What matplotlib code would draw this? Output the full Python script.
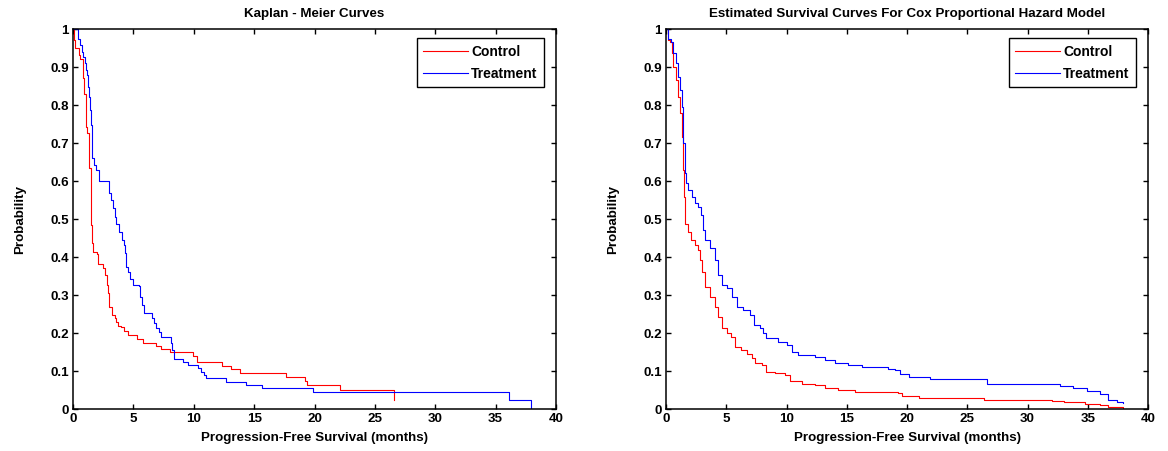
import matplotlib
matplotlib.use("Agg")
import matplotlib.pyplot as plt

plt.rcParams['font.family'] = ['Liberation Sans', 'DejaVu Sans']

# Kaplan-Meier (left)
km_ctrl_t = [0, 0.1, 0.2, 0.5, 0.6, 0.8, 0.9, 1.05, 1.1, 1.2, 1.35, 1.46, 1.5, 1.55, 1.68, 1.96,
             2.04, 2.5, 2.65, 2.79, 2.87, 3.0, 3.2, 3.48, 3.6, 3.76, 3.95, 4.23, 4.58, 5.27, 5.77,
             6.9, 7.27, 8.04, 9.97, 10.25, 12.37, 13.09, 13.84, 17.6, 19.2, 19.36, 22.1, 26.6]
km_ctrl_s = [1.0, 0.97, 0.95, 0.932, 0.92, 0.87, 0.83, 0.787, 0.743, 0.726, 0.634, 0.572, 0.484, 0.437, 0.414, 0.408,
             0.381, 0.37, 0.352, 0.326, 0.305, 0.268, 0.247, 0.239, 0.23, 0.218, 0.215, 0.206, 0.195, 0.184, 0.175,
             0.167, 0.158, 0.149, 0.14, 0.123, 0.114, 0.105, 0.094, 0.085, 0.075, 0.062, 0.05, 0.024]

km_trt_t = [0, 0.44, 0.58, 0.72, 0.86, 0.99, 1.07, 1.18, 1.26, 1.35, 1.4, 1.46, 1.54, 1.6, 1.74, 1.9,
            2.18, 3.0, 3.12, 3.3, 3.45, 3.6, 3.8, 4.05, 4.2, 4.33, 4.42, 4.55, 4.75, 4.95, 5.45,
            5.55, 5.7, 5.9, 6.52, 6.7, 6.9, 7.1, 7.25, 8.1, 8.22, 8.33, 9.14, 9.5, 10.39, 10.6,
            10.85, 11.0, 12.7, 14.3, 15.65, 19.9, 36.1, 37.9]
km_trt_s = [1.0, 0.975, 0.958, 0.94, 0.927, 0.91, 0.892, 0.879, 0.848, 0.822, 0.787, 0.747, 0.686, 0.66, 0.642, 0.629,
            0.601, 0.568, 0.55, 0.528, 0.504, 0.487, 0.465, 0.445, 0.432, 0.41, 0.374, 0.361, 0.342, 0.327, 0.324,
            0.296, 0.274, 0.252, 0.239, 0.226, 0.212, 0.203, 0.19, 0.173, 0.155, 0.131, 0.123, 0.117, 0.109, 0.098,
            0.089, 0.081, 0.072, 0.063, 0.054, 0.046, 0.024, 0.0]

# Cox model (right)
cox_ctrl_t = [0, 0.14, 0.33, 0.47, 0.61, 0.8, 1.02, 1.16, 1.3, 1.44, 1.52, 1.58, 1.85, 2.07, 2.41, 2.68,
              2.82, 2.96, 3.24, 3.65, 4.07, 4.34, 4.62, 5.04, 5.39, 5.73, 6.22, 6.7, 7.11, 7.39, 7.94,
              8.3, 9.05, 9.88, 10.29, 11.26, 12.37, 13.2, 14.3, 15.68, 18.45, 19.28, 19.56, 21.0, 26.4,
              32.0, 33.0, 34.77, 36.0, 36.7, 37.9]
cox_ctrl_s = [1.0, 0.97, 0.967, 0.936, 0.9, 0.866, 0.822, 0.778, 0.717, 0.629, 0.559, 0.488, 0.467, 0.445, 0.432, 0.418,
              0.392, 0.361, 0.322, 0.296, 0.269, 0.243, 0.212, 0.199, 0.19, 0.164, 0.155, 0.146, 0.133, 0.122, 0.116,
              0.098, 0.094, 0.089, 0.075, 0.066, 0.063, 0.054, 0.05, 0.046, 0.044, 0.041, 0.034, 0.029, 0.024,
              0.021, 0.018, 0.014, 0.011, 0.006, 0.001]

cox_trt_t = [0, 0.19, 0.41, 0.61, 0.8, 1.02, 1.16, 1.3, 1.44, 1.58, 1.66, 1.85, 2.13, 2.41, 2.68, 2.9,
             3.1, 3.24, 3.65, 4.07, 4.34, 4.62, 5.04, 5.45, 5.87, 6.42, 6.97, 7.33, 7.8, 8.08, 8.3,
             9.32, 10.02, 10.43, 10.98, 12.37, 13.2, 14.0, 15.13, 16.24, 18.45, 19.0, 19.42, 20.2, 21.9,
             26.6, 31.87, 32.7, 33.8, 34.9, 36.0, 36.7, 37.4, 37.9]
cox_trt_s = [1.0, 0.975, 0.967, 0.936, 0.91, 0.875, 0.839, 0.796, 0.699, 0.62, 0.594, 0.576, 0.559, 0.541, 0.532, 0.51,
             0.471, 0.445, 0.423, 0.392, 0.353, 0.326, 0.318, 0.296, 0.268, 0.261, 0.247, 0.221, 0.212, 0.199, 0.186,
             0.177, 0.168, 0.151, 0.142, 0.138, 0.129, 0.12, 0.116, 0.11, 0.105, 0.103, 0.092, 0.085, 0.079,
             0.067, 0.065, 0.06, 0.054, 0.047, 0.039, 0.025, 0.018, 0.015]

xticks = [0, 5, 10, 15, 20, 25, 30, 35, 40]
yticks = [0, 0.1, 0.2, 0.3, 0.4, 0.5, 0.6, 0.7, 0.8, 0.9, 1]
ytick_labels = ['0', '0.1', '0.2', '0.3', '0.4', '0.5', '0.6', '0.7', '0.8', '0.9', '1']

FS = 9.6
fig = plt.figure(figsize=(11.68, 4.51), dpi=100)
ax1 = fig.add_axes([73/1168, 1-409/451, (556-73)/1168, 380/451])
ax2 = fig.add_axes([666/1168, 1-409/451, (1148-666)/1168, 380/451])

panels = [
    (ax1, km_ctrl_t, km_ctrl_s, km_trt_t, km_trt_s, 'Kaplan - Meier Curves'),
    (ax2, cox_ctrl_t, cox_ctrl_s, cox_trt_t, cox_trt_s, 'Estimated Survival Curves For Cox Proportional Hazard Model'),
]

for ax, ct, cs, tt, ts, title in panels:
    ax.plot(ct, cs, color='r', lw=0.8, drawstyle='steps-post', label='Control')
    ax.plot(tt, ts, color='b', lw=0.8, drawstyle='steps-post', label='Treatment')
    ax.set_xlim(0, 40)
    ax.set_ylim(0, 1)
    ax.set_xticks(xticks)
    ax.set_xticklabels([str(v) for v in xticks])
    ax.set_yticks(yticks)
    ax.set_yticklabels(ytick_labels)
    ax.tick_params(direction='in', top=True, right=True, length=3.5, width=1, pad=3, labelsize=FS)
    for lab in ax.get_xticklabels() + ax.get_yticklabels():
        lab.set_fontweight('bold')
    for sp in ax.spines.values():
        sp.set_linewidth(1.1)
    ax.set_title(title, fontsize=FS, fontweight='bold', pad=9)
    ax.set_xlabel('Progression-Free Survival (months)', fontsize=FS, fontweight='bold', labelpad=5)
    ax.set_ylabel('Probability', fontsize=FS, fontweight='bold', labelpad=17)
    leg = ax.legend(loc='upper right', bbox_to_anchor=(0.975, 0.9755), borderaxespad=0,
                    prop={'size': 10, 'weight': 'bold'}, fancybox=False, framealpha=1,
                    edgecolor='k', handlelength=3.2, handletextpad=0.25,
                    borderpad=0.45, labelspacing=0.6)
    leg.get_frame().set_linewidth(1.0)

fig.savefig('out.png', dpi=100)
